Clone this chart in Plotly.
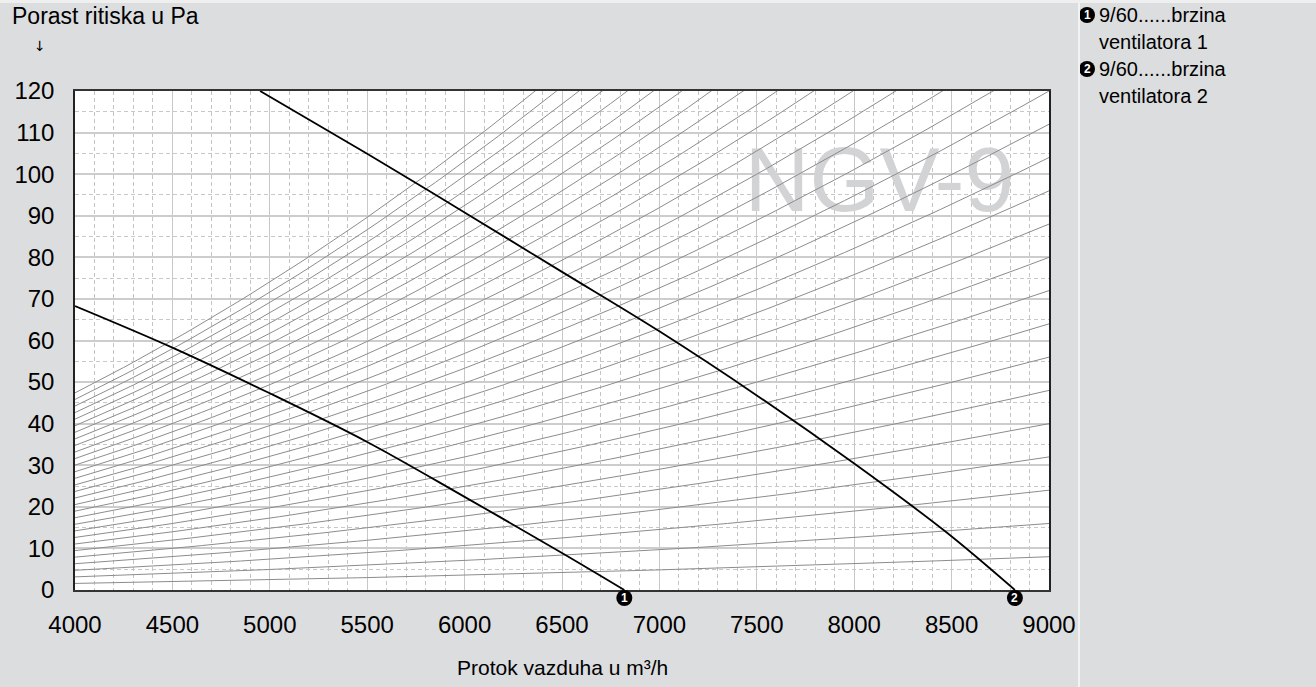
import plotly.graph_objects as go

# ---------------- data ----------------
# Fan curve 1 (speed 1) : airflow m3/h -> pressure rise Pa
fan1_q = [4000, 4500, 5000, 5500, 6000, 6500, 6820]
fan1_p = [68.3, 58.3, 47.3, 35.6, 22.4, 8.9, 0]
# Fan curve 2 (speed 2)
fan2_q = [4950, 5500, 6000, 6500, 7000, 7500, 8000, 8470, 8825]
fan2_p = [120, 104.9, 90.8, 76.5, 62.2, 46.8, 30.4, 14.0, 0]

# System (duct) characteristic curves: pressure at 9000 m3/h (dp ~ Q^2)
system_dp_at_9000 = [8, 16, 24, 32, 40, 48, 56, 64, 72, 80,
                     88, 96, 104, 112, 120, 128, 136, 144, 152, 160,
                     168, 176, 184, 192, 200, 208, 216, 224, 232, 240]
system_ref_q = 9000
system_q = [4000 + 50 * i for i in range(101)]

x_ticks = [4000, 4500, 5000, 5500, 6000, 6500, 7000, 7500, 8000, 8500, 9000]
y_ticks = [0, 10, 20, 30, 40, 50, 60, 70, 80, 90, 100, 110, 120]

marker_labels = ["1", "2"]
legend_lines = ["9/60......brzina", "ventilatora 1", "9/60......brzina", "ventilatora 2"]

y_title = "Porast ritiska u Pa"
x_title = "Protok vazduha u m³/h"
watermark = "NGV-9"

# ---------------- figure ----------------
FONT = "Liberation Sans, Arial, sans-serif"
BG = "#dcdddf"
W, H = 1316, 687
L, R, T, B = 75, 267, 91, 97
PW, PH = W - L - R, H - T - B


def px_x(px):
    return (px - L) / PW


def px_y(py):
    return (H - B - py) / PH


fig = go.Figure()

# watermark (below curves, above grid)
fig.add_trace(go.Scatter(
    x=[8130], y=[96.5], mode="text", text=[watermark],
    textfont=dict(family=FONT, size=90, color="#d2d3d5"),
    textposition="middle center", hoverinfo="skip", showlegend=False))

for k in system_dp_at_9000:
    fig.add_trace(go.Scatter(
        x=system_q, y=[k * (q / system_ref_q) ** 2 for q in system_q],
        mode="lines", line=dict(color="#8c8c8c", width=1),
        hoverinfo="skip", showlegend=False))

for qs, ps in [(fan1_q, fan1_p), (fan2_q, fan2_p)]:
    fig.add_trace(go.Scatter(
        x=qs, y=ps, mode="lines",
        line=dict(color="#000000", width=1.8, shape="spline", smoothing=1.0),
        showlegend=False))

annotations = []
shapes = []


def badge(xref, x, yref, y, label):
    shapes.append(dict(type="circle", xref=xref, yref=yref,
                       xsizemode="pixel", ysizemode="pixel",
                       xanchor=x, yanchor=y, x0=-8, x1=8, y0=-8, y1=8,
                       fillcolor="#000000", line=dict(width=0), layer="above"))
    annotations.append(dict(x=x, y=y, xref=xref, yref=yref, xanchor="center",
                            yanchor="middle", text="<b>%s</b>" % label, showarrow=False,
                            font=dict(family=FONT, size=12, color="#ffffff")))


# numbered markers at zero-pressure points
for lbl, qs in zip(marker_labels, [fan1_q, fan2_q]):
    badge("x", qs[-1], "paper", px_y(598), lbl)

# axis titles
annotations.append(dict(x=px_x(10), y=px_y(16), xref="paper", yref="paper",
                        xanchor="left", yanchor="middle", text=y_title, showarrow=False,
                        font=dict(family=FONT, size=23, color="#000")))
annotations.append(dict(x=px_x(40), y=px_y(46), xref="paper", yref="paper",
                        xanchor="center", yanchor="middle", text="↓", showarrow=False,
                        font=dict(family="DejaVu Sans", size=14, color="#000")))
annotations.append(dict(x=0.5, y=px_y(667), xref="paper", yref="paper",
                        xanchor="center", yanchor="middle", text=x_title, showarrow=False,
                        font=dict(family=FONT, size=21, color="#000")))

# right-side legend
legend_y = [15, 42, 69, 96]
for i, (txt, py) in enumerate(zip(legend_lines, legend_y)):
    annotations.append(dict(x=px_x(1097), y=px_y(py), xref="paper", yref="paper",
                            xanchor="left", yanchor="middle", text=txt, showarrow=False,
                            font=dict(family=FONT, size=20, color="#000")))
    if i % 2 == 0:
        badge("paper", px_x(1087), "paper", px_y(py), marker_labels[i // 2])

shapes += [
    dict(type="line", xref="paper", yref="paper", x0=px_x(1079), x1=px_x(1079),
         y0=px_y(0), y1=px_y(H), line=dict(color="#f2f2f2", width=2)),
    dict(type="rect", xref="paper", yref="paper", x0=px_x(0), x1=px_x(W),
         y0=px_y(0), y1=px_y(3), line=dict(width=0), fillcolor="#efefef"),
]

fig.update_layout(
    width=W, height=H,
    margin=dict(l=L, r=R, t=T, b=B, autoexpand=False),
    paper_bgcolor=BG, plot_bgcolor="#ffffff",
    font=dict(family=FONT, color="#000"),
    annotations=annotations, shapes=shapes,
    showlegend=False,
    xaxis=dict(range=[4000, 9000], tickvals=x_ticks, ticks="",
               tickfont=dict(family=FONT, size=24, color="#000"),
               ticklabelstandoff=12,
               showgrid=True, gridcolor="#c8c8c8", gridwidth=1,
               minor=dict(dtick=100, showgrid=True, gridcolor="#c4c4c4",
                          griddash="4px,3px", gridwidth=1),
               showline=True, linecolor="#333333", linewidth=2, mirror=True, zeroline=False),
    yaxis=dict(range=[0, 120], tickvals=y_ticks, ticks="",
               tickfont=dict(family=FONT, size=24, color="#000"),
               ticklabelstandoff=14,
               showgrid=True, gridcolor="#cdcdcd", gridwidth=1.5,
               minor=dict(dtick=5, showgrid=True, gridcolor="#c8c8c8",
                          griddash="4px,3px", gridwidth=1),
               showline=True, linecolor="#222222", linewidth=1.5, mirror=True, zeroline=False),
)

fig.write_html("out.html", config={"displayModeBar": False},
               post_script="document.body.style.margin='0';")
